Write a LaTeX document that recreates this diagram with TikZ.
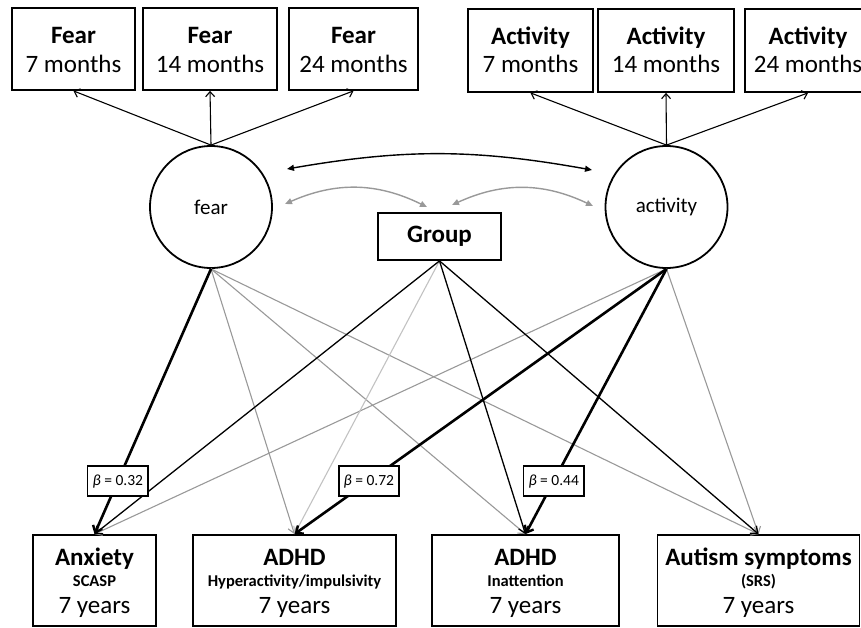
\documentclass[tikz,border=0pt]{standalone}
\usepackage{fontspec}
\setmainfont{Carlito}
\usetikzlibrary{arrows.meta,calc}
\definecolor{midgrey}{HTML}{999999}
\definecolor{lightgrey}{HTML}{C2C2C2}
\begin{document}
\begin{tikzpicture}[x=1pt,y=-1pt,
  box/.style={draw, line width=1.8pt, inner sep=0pt},
  big/.style={font=\fontsize{25}{29}\selectfont, inner sep=0pt, anchor=base},
  bigb/.style={font=\fontsize{25}{29}\selectfont\bfseries, inner sep=0pt, anchor=base},
  small/.style={font=\fontsize{16.5}{20}\selectfont\bfseries, inner sep=0pt, anchor=base},
  latent/.style={circle, draw, line width=1.8pt, minimum size=122pt, inner sep=0pt, font=\fontsize{21}{25}\selectfont},
  topar/.style={line width=1.1pt, -{Straight Barb[length=5pt,width=9pt,line width=1.1pt]}},
  greyar/.style={line width=1.1pt, midgrey, -{Straight Barb[length=6pt,width=9pt,line width=1.1pt]}},
  lgreyar/.style={line width=1.1pt, lightgrey, -{Straight Barb[length=6pt,width=9pt,line width=1.1pt]}},
  blackar/.style={line width=1.3pt, -{Straight Barb[length=6pt,width=10pt,line width=1.3pt]}},
  thickar/.style={line width=2.6pt, -{Straight Barb[length=6pt,width=10pt,line width=2.4pt]}},
  corr/.style={line width=1.4pt, {Triangle[length=7pt,width=6pt]}-{Triangle[length=7pt,width=6pt]}},
  gcorr/.style={line width=1.4pt, midgrey, {Triangle[length=7pt,width=6pt]}-{Triangle[length=7pt,width=6pt]}},
  beta/.style={draw, fill=white, line width=1.6pt, inner xsep=5pt, minimum height=30pt, font=\fontsize{15.5}{18}\selectfont}
]
\useasboundingbox (0,0) rectangle (861,628);

% top indicator boxes
\foreach \n/\x/\w/\t/\m in {F7/73.5/123/Fear/7, F14/210/134/Fear/14, F24/353.5/129/Fear/24}{
  \node[box, minimum width=\w pt, minimum height=82pt] (\n) at (\x,49) {};
  \node[bigb] (\n a) at (\x,44) {\t};
  \node[big] (\n b) at (\x,73) {\m\ months};
}
\foreach \n/\x/\w/\t/\m in {A7/530.5/125/Activity/7, A14/666/136/Activity/14, A24/808/126/Activity/24}{
  \node[box, minimum width=\w pt, minimum height=83pt] (\n) at (\x,50.5) {};
  \node[bigb] (\n a) at (\x,45) {\t};
  \node[big] (\n b) at (\x,73) {\m\ months};
}

% latent variables
\node[latent] (fear) at (211,207) {fear};
\node[latent] (act) at (666.5,207) {activity};

% group
\node[box, minimum width=123pt, minimum height=47pt, font=\fontsize{25}{29}\selectfont\bfseries] (group) at (439.5,236.5) {Group};

% outcome boxes
\node[box, minimum width=123pt, minimum height=91pt] (anx) at (94.5,580.5) {};
\node[bigb] (anxa) at (94.5,565) {Anxiety};
\node[small] (anxb) at (94.5,586) {SCASP};
\node[big] (anxc) at (94.5,613) {7 years};

\node[box, minimum width=203pt, minimum height=91pt] (hyp) at (294.5,580.5) {};
\node[bigb] (hypa) at (294.5,565) {ADHD};
\node[small] (hypb) at (294.5,586) {Hyperactivity/impulsivity};
\node[big] (hypc) at (294.5,613) {7 years};

\node[box, minimum width=187pt, minimum height=91pt] (ina) at (525.5,580.5) {};
\node[bigb] (inaa) at (525.5,565) {ADHD};
\node[small] (inab) at (525.5,586) {Inattention};
\node[big] (inac) at (525.5,613) {7 years};

\node[box, minimum width=202pt, minimum height=91pt] (aut) at (758.5,580.5) {};
\node[bigb] (auta) at (758.5,565) {Autism symptoms};
\node[small] (autb) at (758.5,586) {(SRS)};
\node[big] (autc) at (758.5,613) {7 years};

% measurement arrows
\foreach \b in {F7,F14,F24}{ \draw[topar] (fear.north) -- (\b.south); }
\foreach \b in {A7,A14,A24}{ \draw[topar] (act.north) -- (\b.south); }

% correlations
\draw[corr] ($(fear.center)+(76,-38)$) to[bend left=10] ($(act.center)+(-74.5,-37)$);
\draw[gcorr] ($(fear.center)+(74,-3)$) to[bend left=25] ($(group.center)+(-12.5,-29.5)$);
\draw[gcorr] ($(group.center)+(12.5,-31.5)$) to[bend left=25] ($(act.center)+(-73.5,-1)$);

% regression paths
\draw[greyar] (fear.south) -- (hyp.north);
\draw[greyar] (fear.south) -- (ina.north);
\draw[greyar] (fear.south) -- (aut.north);
\draw[greyar] (act.south) -- (anx.north);
\draw[greyar] (act.south) -- (aut.north);
\draw[lgreyar] (group.south) -- (hyp.north);
\draw[blackar] (group.south) -- (anx.north);
\draw[blackar] (group.south) -- (ina.north);
\draw[blackar] (group.south) -- (aut.north);
\draw[thickar] (fear.south) -- (anx.north);
\draw[thickar] (act.south) -- (hyp.north);
\draw[thickar] (act.south) -- (ina.north);

% coefficient labels
\path (fear.south) -- node[beta, pos=0.8] (b1) {\textit{β} = 0.32} (anx.north);
\path (act.south) -- node[beta, pos=0.8] (b2) {\textit{β} = 0.72} (hyp.north);
\path (act.south) -- node[beta, pos=0.8] (b3) {\textit{β} = 0.44} (ina.north);
\end{tikzpicture}
\end{document}
